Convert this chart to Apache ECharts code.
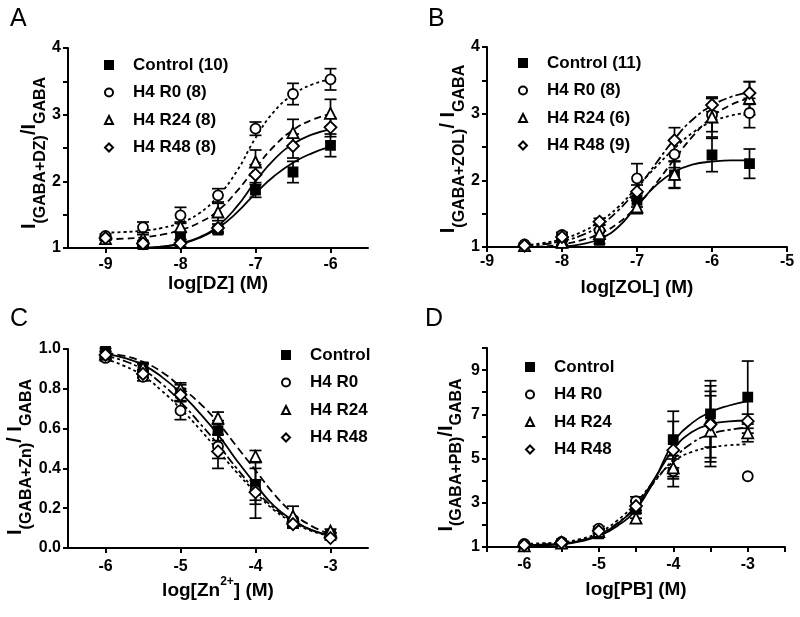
<!DOCTYPE html>
<html><head><meta charset="utf-8">
<script src="https://cdn.jsdelivr.net/npm/echarts@6/dist/echarts.min.js"></script>
<style>html,body{margin:0;padding:0;background:#fff}#c{width:800px;height:617px}</style>
</head><body><div id="c"></div>
<script>
// ---------- Panel A (DZ) ----------
const xA = [-9, -8.5, -8, -7.5, -7, -6.5, -6];
const namesA = ['Control (10)', 'H4 R0 (8)', 'H4 R24 (8)', 'H4 R48 (8)'];
const aControl = [null, 1.05, 1.18, 1.27, 1.87, 2.14, 2.54];
const aControlSem = [null, 0.03, 0.05, 0.05, 0.11, 0.16, 0.17];
const aR0 = [1.18, 1.31, 1.49, 1.79, 2.79, 3.31, 3.53];
const aR0Sem = [0.03, 0.08, 0.12, 0.1, 0.1, 0.16, 0.16];
const aR24 = [1.14, 1.15, 1.32, 1.54, 2.29, 2.73, 3.02];
const aR24Sem = [0.02, 0.05, 0.07, 0.13, 0.18, 0.2, 0.21];
const aR48 = [1.15, 1.07, 1.07, 1.3, 2.1, 2.53, 2.81];
const aR48Sem = [0.03, 0.03, 0.05, 0.06, 0.15, 0.18, 0.14];
const fitXA = [-9, -8.75, -8.5, -8.25, -8, -7.75, -7.5, -7.25, -7, -6.75, -6.5, -6.25, -6];
const aControlFit = [null, null, 1.0, 1.02, 1.06, 1.15, 1.3, 1.53, 1.82, 2.08, 2.28, 2.42, 2.52];
const aR0Fit = [1.23, 1.24, 1.26, 1.3, 1.38, 1.52, 1.78, 2.15, 2.65, 3.05, 3.3, 3.45, 3.53];
const aR24Fit = [1.13, 1.14, 1.16, 1.2, 1.27, 1.38, 1.56, 1.85, 2.2, 2.53, 2.77, 2.92, 3.01];
const aR48Fit = [null, null, 1.0, 1.02, 1.07, 1.16, 1.33, 1.62, 2.0, 2.33, 2.56, 2.7, 2.78];
const ticksA = [-9, -8, -7, -6];

// ---------- Panel B (ZOL) ----------
const xB = [-8.5, -8, -7.5, -7, -6.5, -6, -5.5];
const namesB = ['Control (11)', 'H4 R0 (8)', 'H4 R24 (6)', 'H4 R48 (9)'];
const bControl = [null, 1.06, 1.1, 1.7, 2.08, 2.38, 2.25];
const bControlSem = [null, 0.03, 0.05, 0.1, 0.2, 0.25, 0.22];
const bR0 = [1.04, 1.18, 1.25, 2.03, 2.39, 2.98, 3.01];
const bR0Sem = [0.02, 0.04, 0.08, 0.22, 0.2, 0.25, 0.22];
const bR24 = [1.02, 1.07, 1.2, 1.6, 2.09, 2.95, 3.23];
const bR24Sem = [0.02, 0.04, 0.06, 0.1, 0.2, 0.3, 0.25];
const bR48 = [1.02, 1.15, 1.38, 1.83, 2.6, 3.13, 3.31];
const bR48Sem = [0.02, 0.04, 0.05, 0.1, 0.19, 0.1, 0.17];
const fitXB = [-8.5, -8.25, -8, -7.75, -7.5, -7.25, -7, -6.75, -6.5, -6.25, -6, -5.75, -5.5];
const bControlFit = [null, null, 1.01, 1.04, 1.12, 1.3, 1.62, 1.92, 2.13, 2.24, 2.28, 2.3, 2.3];
const bR0Fit = [1.03, 1.06, 1.12, 1.22, 1.38, 1.6, 1.9, 2.2, 2.48, 2.72, 2.88, 2.97, 3.02];
const bR24Fit = [1.0, 1.01, 1.04, 1.1, 1.2, 1.36, 1.62, 1.95, 2.32, 2.67, 2.95, 3.13, 3.23];
const bR48Fit = [1.02, 1.04, 1.09, 1.17, 1.32, 1.55, 1.87, 2.25, 2.62, 2.92, 3.12, 3.25, 3.32];

// ---------- Panel C (Zn2+) ----------
const xC = [-6, -5.5, -5, -4.5, -4, -3.5, -3];
const namesC = ['Control', 'H4 R0', 'H4 R24', 'H4 R48'];
const cControl = [0.988, 0.91, 0.78, 0.59, 0.32, 0.13, 0.067];
const cControlSem = [0.015, 0.02, 0.04, 0.05, 0.08, 0.02, 0.01];
const cR0 = [0.955, 0.86, 0.69, 0.51, 0.29, 0.125, 0.067];
const cR0Sem = [0.015, 0.02, 0.045, 0.06, 0.14, 0.02, 0.01];
const cR24 = [0.975, 0.905, 0.8, 0.653, 0.46, 0.16, 0.085];
const cR24Sem = [0.015, 0.02, 0.03, 0.03, 0.03, 0.05, 0.01];
const cR48 = [0.97, 0.875, 0.77, 0.485, 0.28, 0.12, 0.05];
const cR48Sem = [0.015, 0.02, 0.03, 0.085, 0.06, 0.02, 0.01];
const fitXC = [-6, -5.75, -5.5, -5.25, -5, -4.75, -4.5, -4.25, -4, -3.75, -3.5, -3.25, -3];
const cControlFit = [0.975, 0.955, 0.92, 0.86, 0.78, 0.68, 0.57, 0.44, 0.32, 0.21, 0.14, 0.09, 0.065];
const cR0Fit = [0.95, 0.915, 0.865, 0.79, 0.7, 0.6, 0.49, 0.38, 0.28, 0.19, 0.13, 0.085, 0.06];
const cR24Fit = [0.98, 0.965, 0.935, 0.885, 0.81, 0.73, 0.63, 0.51, 0.39, 0.27, 0.175, 0.11, 0.07];
const cR48Fit = [0.965, 0.94, 0.895, 0.825, 0.735, 0.63, 0.52, 0.4, 0.29, 0.2, 0.135, 0.09, 0.063];
const ticksC = [-6, -5, -4, -3];

// ---------- Panel D (PB) ----------
const xD = [-6, -5.5, -5, -4.5, -4, -3.5, -3];
const namesD = ['Control', 'H4 R0', 'H4 R24', 'H4 R48'];
const dControl = [1.03, 1.15, 1.59, 2.7, 5.86, 7.02, 7.78];
const dControlSem = [0.05, 0.05, 0.1, 0.4, 1.28, 1.5, 1.63];
const dR0 = [1.14, 1.23, 1.83, 3.07, 4.43, 6.57, 4.2];
const dR0Sem = [0.05, 0.05, 0.1, 0.2, 0.7, 1.72, 0];
const dR24 = [1.05, 1.18, 1.7, 2.31, 4.58, 6.24, 6.16];
const dR24Sem = [0.05, 0.05, 0.1, 0.22, 0.4, 1.6, 0.4];
const dR48 = [1.08, 1.2, 1.72, 2.85, 5.38, 6.54, 6.69];
const dR48Sem = [0.05, 0.05, 0.1, 0.2, 1.3, 1.5, 0.32];
const fitXD = [-6, -5.75, -5.5, -5.25, -5, -4.75, -4.5, -4.25, -4, -3.75, -3.5, -3.25, -3];
const dControlFit = [1.07, 1.08, 1.12, 1.25, 1.5, 1.95, 2.7, 4.05, 5.7, 6.6, 7.1, 7.4, 7.6];
const dR0Fit = [1.15, 1.17, 1.22, 1.36, 1.65, 2.2, 3.0, 4.0, 4.85, 5.3, 5.5, 5.6, 5.65];
const dR24Fit = [1.1, 1.12, 1.17, 1.3, 1.58, 2.08, 2.85, 3.95, 4.95, 5.7, 6.1, 6.3, 6.4];
const dR48Fit = [1.1, 1.11, 1.15, 1.28, 1.55, 2.05, 2.85, 4.1, 5.4, 6.2, 6.55, 6.68, 6.72];

// ---------- drawing ----------
const FONT = '"Liberation Sans", Arial, Helvetica, sans-serif';
const SYMBOLS = ['rect', 'circle', 'triangle', 'diamond'];
const SIZES = [9, 10, 11, 12];
const FILLS = ['#000', '#fff', '#fff', '#fff'];

const series = [];
function errRender(params, api) {
  const x = api.value(0), lo = api.value(1), hi = api.value(2);
  const a = api.coord([x, hi]), b = api.coord([x, lo]);
  const w = 6;
  const st = { stroke: '#000', lineWidth: 1.7 };
  return { type: 'group', children: [
    { type: 'line', shape: { x1: a[0], y1: a[1], x2: b[0], y2: b[1] }, style: st },
    { type: 'line', shape: { x1: a[0] - w, y1: a[1], x2: a[0] + w, y2: a[1] }, style: st },
    { type: 'line', shape: { x1: b[0] - w, y1: b[1], x2: b[0] + w, y2: b[1] }, style: st }
  ]};
}
function addPanel(gi, xs, names, means, sems, fitX, fits, dashes) {
  for (let k = 0; k < 4; k++) {
    series.push({
      type: 'line', name: 'fit' + gi + '_' + k, xAxisIndex: gi, yAxisIndex: gi,
      data: fitX.map((x, i) => [x, fits[k][i]]).filter(p => p[1] !== null),
      smooth: 0.5, showSymbol: false, symbol: 'none', silent: true, z: 1,
      lineStyle: { color: '#000', width: 1.8, type: dashes[k] }
    });
  }
  for (let k = 0; k < 4; k++) {
    series.push({
      type: 'custom', name: 'err' + gi + '_' + k, xAxisIndex: gi, yAxisIndex: gi,
      renderItem: errRender, silent: true, z: 2,
      encode: { x: 0, y: [1, 2] },
      data: xs.map((x, i) => means[k][i] === null || !sems[k][i] ? null :
        [x, means[k][i] - sems[k][i], means[k][i] + sems[k][i]]).filter(Boolean)
    });
  }
  for (let k = 0; k < 4; k++) {
    series.push({
      type: 'scatter', name: names[k], xAxisIndex: gi, yAxisIndex: gi, z: 3,
      symbol: SYMBOLS[k], symbolSize: SIZES[k],
      itemStyle: { color: FILLS[k], borderColor: '#000', borderWidth: 1.8, opacity: 1 },
      data: xs.map((x, i) => [x, means[k][i]]).filter(p => p[1] !== null)
    });
  }
}
addPanel(0, xA, namesA, [aControl, aR0, aR24, aR48], [aControlSem, aR0Sem, aR24Sem, aR48Sem],
  fitXA, [aControlFit, aR0Fit, aR24Fit, aR48Fit], ['solid', [3, 3], [7, 4], 'solid']);
addPanel(1, xB, namesB, [bControl, bR0, bR24, bR48], [bControlSem, bR0Sem, bR24Sem, bR48Sem],
  fitXB, [bControlFit, bR0Fit, bR24Fit, bR48Fit], ['solid', [3, 3], [7, 4], [9, 3, 3, 3]]);
addPanel(2, xC, namesC, [cControl, cR0, cR24, cR48], [cControlSem, cR0Sem, cR24Sem, cR48Sem],
  fitXC, [cControlFit, cR0Fit, cR24Fit, cR48Fit], ['solid', [3, 3], [8, 4], [9, 3, 3, 3]]);
addPanel(3, xD, namesD, [dControl, dR0, dR24, dR48], [dControlSem, dR0Sem, dR24Sem, dR48Sem],
  fitXD, [dControlFit, dR0Fit, dR24Fit, dR48Fit], ['solid', [3, 3], [9, 3, 3, 3], 'solid']);

const axisCommon = {
  type: 'value',
  axisLine: { onZero: false, lineStyle: { color: '#000', width: 2 } },
  axisTick: { length: 5, lineStyle: { color: '#000', width: 2 } },
  splitLine: { show: false },
  axisLabel: { color: '#000', fontSize: 16, fontWeight: 'bold', fontFamily: FONT }
};
function xAx(gi, min, max, opts, name, gap, margin, extra) {
  const ax = Object.assign({}, axisCommon, { gridIndex: gi, min, max, name, nameLocation: 'middle', nameGap: gap,
    nameTextStyle: Object.assign({ color: '#000', fontSize: 19, fontWeight: 'bold', fontFamily: FONT }, extra || {}) });
  ax.axisTick = Object.assign({}, axisCommon.axisTick, opts.tick || {});
  ax.axisLabel = Object.assign({}, axisCommon.axisLabel, { margin }, opts.label || {});
  if (opts.interval) ax.interval = opts.interval;
  return ax;
}
const subRich = {
  i: { fontSize: 20, fontWeight: 'bold', lineHeight: 20, verticalAlign: 'top', fontFamily: FONT, color: '#000' },
  s: { fontSize: 16, fontWeight: 'bold', lineHeight: 16, verticalAlign: 'top', padding: [13, 0, 0, 0], fontFamily: FONT, color: '#000' }
};
function yAx(gi, min, max, interval, fmt, name, gap, shift) {
  const ax = Object.assign({}, axisCommon, { gridIndex: gi, min, max, interval, name, nameLocation: 'middle', nameGap: gap,
    nameTextStyle: { rich: subRich, padding: [0, shift, 0, 0] } });
  ax.axisLabel = Object.assign({}, axisCommon.axisLabel, { margin: 7, formatter: fmt });
  return ax;
}
const intOnly = v => Number.isInteger(v) ? String(v) : '';

const legendBase = {
  orient: 'vertical', itemWidth: 8, itemHeight: 8, itemGap: 7.5, selectedMode: false,
  padding: 0,
  textStyle: { fontSize: 17, fontWeight: 'bold', fontFamily: FONT, color: '#000', lineHeight: 20, padding: [0, 0, 0, 15] }
};
const titleStyle = { fontSize: 25, fontWeight: 'normal', color: '#000', fontFamily: FONT };

const option = {
  animation: false,
  backgroundColor: '#fff',
  title: [
    { text: 'A', left: 10, top: 7, padding: 0, textStyle: titleStyle },
    { text: 'B', left: 428, top: 7, padding: 0, textStyle: titleStyle },
    { text: 'C', left: 10, top: 307, padding: 0, textStyle: titleStyle },
    { text: 'D', left: 425, top: 307, padding: 0, textStyle: titleStyle }
  ],
  legend: [
    Object.assign({}, legendBase, { left: 104, top: 55, data: namesA }),
    Object.assign({}, legendBase, { left: 518, top: 53, data: namesB }),
    Object.assign({}, legendBase, { left: 281, top: 345, data: namesC }),
    Object.assign({}, legendBase, { left: 525, top: 357, data: namesD })
  ],
  grid: [
    { left: 68, top: 48, width: 300, height: 200 },
    { left: 487, top: 47, width: 300, height: 200 },
    { left: 68, top: 349, width: 300, height: 199 },
    { left: 487, top: 348, width: 298, height: 199 }
  ],
  xAxis: [
    xAx(0, -9.5, -5.5, { tick: { customValues: ticksA }, label: { customValues: ticksA } }, 'log[DZ] (M)', 26, 9),
    xAx(1, -9, -5, { interval: 1 }, 'log[ZOL] (M)', 31, 7),
    xAx(2, -6.5, -2.5, { tick: { customValues: ticksC }, label: { customValues: ticksC } },
      '{n|log[Zn}{p|2+}{n|] (M)}', 28, 11,
      { rich: {
        n: { fontSize: 19, fontWeight: 'bold', lineHeight: 19, verticalAlign: 'top', padding: [5, 0, 0, 0], fontFamily: FONT, color: '#000' },
        p: { fontSize: 12, fontWeight: 'bold', lineHeight: 12, verticalAlign: 'top', fontFamily: FONT, color: '#000' }
      } }),
    xAx(3, -6.5, -2.5, { interval: 0.5, label: { formatter: intOnly } }, 'log[PB] (M)', 33, 10)
  ],
  yAxis: [
    yAx(0, 1, 4, 0.5, intOnly, '{i|I}{s|(GABA+DZ)}{i|/I}{s|GABA}', 22, 10),
    yAx(1, 1, 4, 0.5, intOnly, '{i|I}{s|(GABA+ZOL)}{i|/ I}{s|GABA}', 22, 4),
    yAx(2, 0, 1, 0.2, v => v.toFixed(1), '{i|I}{s|(GABA+Zn)}{i|/ I}{s|GABA}', 33, 17),
    yAx(3, 1, 10, 1, v => (v % 2 === 1 ? String(v) : ''), '{i|I}{s|(GABA+PB)}{i|/I}{s|GABA}', 31, 15)
  ],
  series
};
const chart = echarts.init(document.getElementById('c'), null, { renderer: 'canvas' });
chart.setOption(option);
</script>
</body></html>
